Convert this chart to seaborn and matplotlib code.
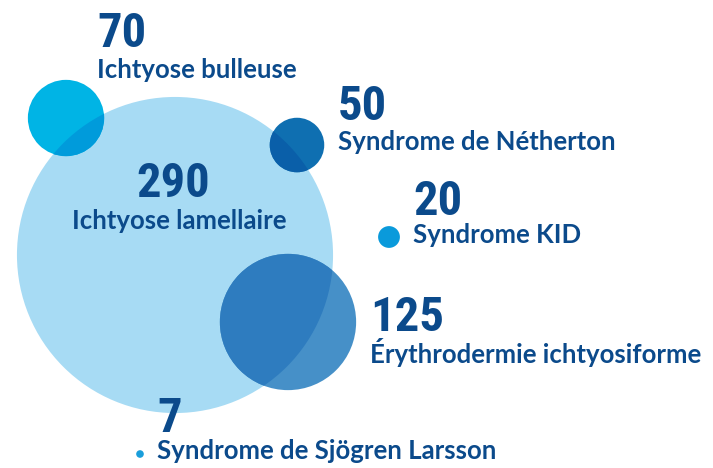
import pandas as pd
import seaborn as sns
import matplotlib.pyplot as plt
from matplotlib.patches import Circle
from matplotlib.colors import to_rgb

# Data
names = ['Ichtyose lamellaire', 'Ichtyose bulleuse', 'Syndrome de Nétherton',
         'Syndrome KID', 'Érythrodermie ichtyosiforme', 'Syndrome de Sjögren Larsson']
values = [290, 70, 50, 20, 125, 7]
colors = ['#A7DBF4', '#00B4E5', '#0F6FB1', '#0A9ADB', '#4690C8', '#1A9EDB']

# Layout (pixel space of the picture)
centers_x = [175, 66, 297, 389, 288, 140]
centers_y = [255, 118, 145, 237, 322, 454]
num_pos = [(136, 197), (97, 47), (338, 120), (413, 215), (370, 331), (157, 432)]
lab_pos = [(72, 229), (97, 78), (338, 150), (413, 243), (370, 363), (157, 459)]

PX_PER_VALUE = 0.545   # radius in px per unit of value
PT_PER_PX = 0.72
text_col = '#0B4A8B'

df = pd.DataFrame({'name': names, 'value': values, 'x': centers_x, 'y': centers_y})
size_map = {v: (2 * v * PX_PER_VALUE * PT_PER_PX) ** 2 for v in values}
palette = dict(zip(names, colors))

sns.set_theme(style='white')
fig = plt.figure(figsize=(7.13, 4.68), dpi=100)
ax = fig.add_axes([0, 0, 1, 1])

sns.scatterplot(data=df, x='x', y='y', hue='name', palette=palette, size='value',
                sizes=size_map, linewidth=0, legend=False, ax=ax, zorder=1)

# overlaps with the big circle: multiply blend
big = df.iloc[0]
base = to_rgb(colors[0])
over = df.iloc[1:].copy()
over_pal = {n: tuple(a * b for a, b in zip(to_rgb(palette[n]), base)) for n in over['name']}
sns.scatterplot(data=over, x='x', y='y', hue='name', palette=over_pal, size='value',
                sizes=size_map, linewidth=0, legend=False, ax=ax, zorder=2)
clip = Circle((big['x'], big['y']), big['value'] * PX_PER_VALUE, transform=ax.transData)
ax.collections[-1].set_clip_path(clip)

for v, n, (nx, ny), (lx, ly) in zip(values, names, num_pos, lab_pos):
    ax.text(nx, ny, str(v), fontsize=35, fontweight='bold', stretch='condensed',
            family=['Roboto Condensed', 'Roboto'],
            color=text_col, ha='left', va='baseline', zorder=5)
    ax.text(lx, ly, n, fontsize=18.5, fontweight='bold', family='Lato',
            color=text_col, ha='left', va='baseline', zorder=5)

ax.set_xlim(0, 713)
ax.set_ylim(468, 0)
ax.set_aspect('auto')
ax.axis('off')

fig.savefig('out.png', dpi=100)
